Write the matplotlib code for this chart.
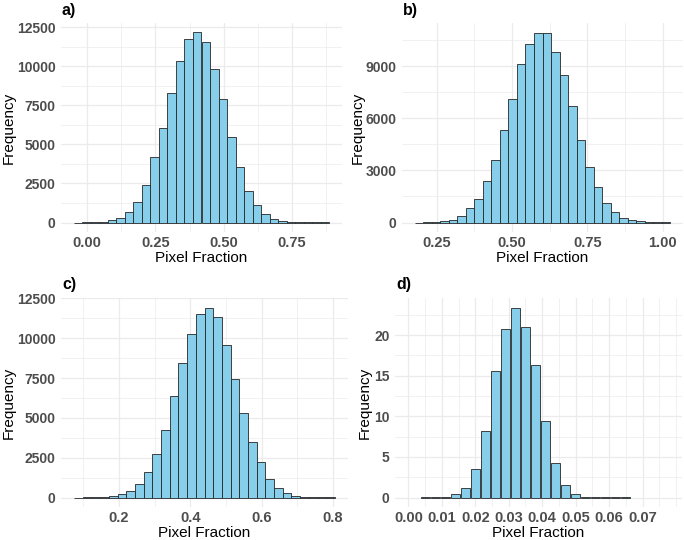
import matplotlib
matplotlib.use('Agg')
import matplotlib.pyplot as plt
import numpy as np
from matplotlib.ticker import MultipleLocator

plt.rcParams['font.family'] = ['Liberation Sans', 'DejaVu Sans']
# tick labels are bold in the original, titles are set back to normal below
plt.rcParams['font.weight'] = 'bold'

# --- histogram counts (30 bins each for a-c) --- #
a_start, a_width = -0.049, 0.03117
a_counts = [0, 10, 25, 64, 130, 320, 660, 1330, 2380, 4200,
            6040, 8270, 10350, 11770, 12170, 11580, 9820, 7910, 5470, 3540,
            2040, 1090, 520, 240, 100, 45, 20, 8, 3, 1]

b_start, b_width = 0.1775, 0.02827
b_counts = [0, 20, 40, 80, 170, 370, 810, 1370, 2410, 3580,
            5300, 7130, 9150, 10290, 10940, 10910, 9810, 8480, 6690, 4760,
            3220, 2040, 1120, 600, 270, 140, 80, 40, 15, 5]

c_start, c_width = 0.0738, 0.02439
c_counts = [0, 5, 15, 40, 100, 190, 380, 820, 1575, 2710,
            4245, 6365, 8466, 10294, 11513, 11933, 11324, 9580, 7458, 5315,
            3487, 2227, 1176, 567, 290, 120, 50, 20, 8, 3]

# panel d: density bars at fixed centres
d_centers = [0.005, 0.008, 0.011, 0.014, 0.017, 0.020, 0.023, 0.026, 0.029, 0.032, 0.035,
             0.038, 0.041, 0.044, 0.047, 0.050, 0.053, 0.056, 0.059, 0.062, 0.065]
d_values = [0.02, 0.05, 0.12, 0.41, 1.15, 3.53, 8.25, 15.6, 20.8, 23.4, 21.0,
            16.3, 9.4, 4.27, 1.52, 0.45, 0.12, 0.05, 0.03, 0.02, 0.02]

FILL = '#87CEEB'
EDGE = '#262626'
GRID = '#ebebeb'
TICK = '#4d4d4d'
W, H = 684, 540


def style_axis(ax, label, box, ylab_x):
    left, top, width, height = box
    for s in ax.spines.values():
        s.set_visible(False)
    ax.set_axisbelow(True)
    ax.grid(True, which='major', color=GRID, linewidth=0.9)
    ax.grid(True, which='minor', color=GRID, linewidth=0.5)
    ax.tick_params(which='both', length=0, labelcolor=TICK)
    ax.tick_params(axis='y', pad=4, labelsize=10)
    ax.tick_params(axis='x', pad=3, labelsize=10.5)
    ax.set_xlabel('Pixel Fraction', fontsize=11, fontweight='normal', va='center')
    ax.xaxis.set_label_coords(0.5, -26 / height)
    ax.set_ylabel('Frequency', fontsize=11, fontweight='normal', va='center')
    ax.yaxis.set_label_coords((ylab_x - left) / width, 0.5)
    ax.annotate(label, xy=(0, 1), xycoords='axes fraction', xytext=(1, 13),
                textcoords='offset pixels', fontsize=11.5, fontweight='bold',
                va='center', ha='left')


def add_panel(fig, box):
    left, top, width, height = box
    return fig.add_axes([left / W, 1 - (top + height) / H, width / W, height / H])


def hist_panel(ax, start, width, counts):
    counts = np.array(counts)
    edges = start + width * np.arange(len(counts) + 1)
    ax.bar(edges[:-1], counts, width=width, align='edge', color=FILL,
           edgecolor=EDGE, linewidth=0.6)
    lo, hi = edges[0], edges[-1]
    pad = 0.05 * (hi - lo)
    ax.set_xlim(lo - pad, hi + pad)
    ax.set_ylim(-0.05 * counts.max(), 1.05 * counts.max())


fig = plt.figure(figsize=(6.84, 5.4), dpi=100)

box_a = (61, 23, 281, 209)
ax_a = add_panel(fig, box_a)
hist_panel(ax_a, a_start, a_width, a_counts)
ax_a.xaxis.set_major_locator(MultipleLocator(0.25))
ax_a.xaxis.set_minor_locator(MultipleLocator(0.125))
ax_a.yaxis.set_major_locator(MultipleLocator(2500))
ax_a.yaxis.set_minor_locator(MultipleLocator(1250))
ax_a.xaxis.set_major_formatter(plt.FormatStrFormatter('%.2f'))
style_axis(ax_a, 'a)', box_a, 8.5)

box_b = (402, 23, 281, 209)
ax_b = add_panel(fig, box_b)
hist_panel(ax_b, b_start, b_width, b_counts)
ax_b.xaxis.set_major_locator(MultipleLocator(0.25))
ax_b.xaxis.set_minor_locator(MultipleLocator(0.125))
ax_b.yaxis.set_major_locator(MultipleLocator(3000))
ax_b.yaxis.set_minor_locator(MultipleLocator(1500))
ax_b.xaxis.set_major_formatter(plt.FormatStrFormatter('%.2f'))
style_axis(ax_b, 'b)', box_b, 358)

box_c = (61, 298, 287, 209)
ax_c = add_panel(fig, box_c)
hist_panel(ax_c, c_start, c_width, c_counts)
ax_c.xaxis.set_major_locator(MultipleLocator(0.2))
ax_c.xaxis.set_minor_locator(MultipleLocator(0.1))
ax_c.yaxis.set_major_locator(MultipleLocator(2500))
ax_c.yaxis.set_minor_locator(MultipleLocator(1250))
ax_c.xaxis.set_major_formatter(plt.FormatStrFormatter('%.1f'))
style_axis(ax_c, 'c)', box_c, 8.5)

box_d = (395, 298, 287, 209)
ax_d = add_panel(fig, box_d)
ax_d.bar(d_centers, d_values, width=0.0027, color=FILL, edgecolor=EDGE, linewidth=0.6)
ax_d.set_xlim(-0.004, 0.0818)
ax_d.set_ylim(-0.05 * max(d_values), 1.05 * max(d_values))
ax_d.set_xticks(np.arange(0, 0.0701, 0.01))
ax_d.set_xticks(np.arange(0.005, 0.0801, 0.005), minor=True)
ax_d.xaxis.set_major_formatter(plt.FormatStrFormatter('%.2f'))
ax_d.yaxis.set_major_locator(MultipleLocator(5))
ax_d.yaxis.set_minor_locator(MultipleLocator(2.5))
style_axis(ax_d, 'd)', box_d, 365)

fig.savefig('out.png', dpi=100)
